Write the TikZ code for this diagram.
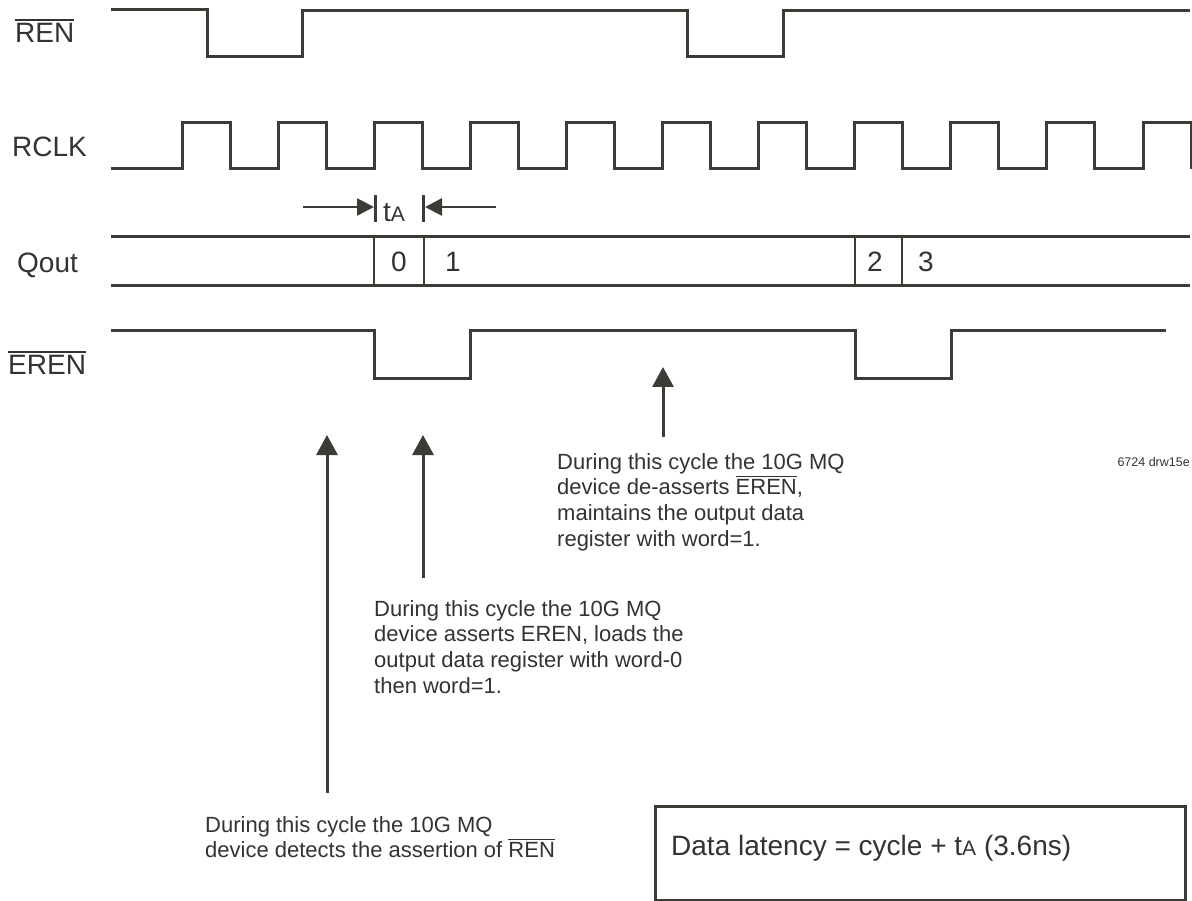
\documentclass[tikz,border=0pt]{standalone}
\usepackage{fontspec}
\setmainfont{Liberation Sans}
\usetikzlibrary{arrows.meta}
\definecolor{ink}{HTML}{3C3C37}
\definecolor{txt}{HTML}{333333}
\newcommand{\ovl}[1]{\leavevmode\vbox{\hrule height .07em\kern .11em\hbox{#1}}}
\newcommand{\tAmark}[1]{t\begingroup\fontsize{#1}{#1}\selectfont A\endgroup}
\begin{document}
\begin{tikzpicture}[x=1pt,y=-1pt,
  wave/.style={draw=ink,line width=3pt,line join=miter},
  sepline/.style={draw=ink,line width=2.5pt},
  sig/.style={anchor=base west,inner sep=0,text=txt,font=\fontsize{28}{30}\selectfont},
  val/.style={anchor=base,inner sep=0,text=txt,font=\fontsize{28}{30}\selectfont},
  note/.style={anchor=north west,inner sep=0,align=left,text=txt,font=\fontsize{22}{25.7}\selectfont},
  uparrow/.style={draw=ink,line width=3pt,-{Triangle[length=20pt,width=21pt]}},
  tarrow/.style={draw=ink,line width=2.5pt,-{Triangle[length=17pt,width=17pt]}},
]
\fill[white] (0,0) rectangle (1192,901);
\useasboundingbox (0,0) rectangle (1192,901);

% signal labels
\node[sig] (lren) at (15,43) {\ovl{REN}};
\node[sig] (lrclk) at (12,157) {RCLK};
\node[sig] (lqout) at (17,273) {Qout};
\node[sig] (leren) at (8,375) {\ovl{EREN}};

% REN
\draw[wave] (111,10) -- (207,10) -- (207,57) -- (302,57) -- (302,11) -- (687,11) -- (687,57) -- (783,57) -- (783,11) -- (1190,11);

% RCLK
\draw[wave] (111,169) foreach \n in {0,...,10} { -- ({182+96.1*\n},169) -- ({182+96.1*\n},123) -- ({230+96.1*\n},123) -- ({230+96.1*\n},169) };

% tA marker
\coordinate (tal0) at (303,207);
\coordinate (tal1) at (374,207);
\coordinate (tar0) at (496,207);
\coordinate (tar1) at (425,207);
\coordinate (tbl0) at (375.5,195);
\coordinate (tbl1) at (375.5,222);
\coordinate (tbr0) at (423.5,195);
\coordinate (tbr1) at (423.5,222);
\draw[tarrow] (tal0) -- (tal1);
\draw[tarrow] (tar0) -- (tar1);
\draw[sepline] (tbl0) -- (tbl1);
\draw[sepline] (tbr0) -- (tbr1);
\node[anchor=base west,inner sep=0,text=txt,font=\fontsize{28}{30}\selectfont] (ta) at (383,222) {\tAmark{21}};

% Qout
\draw[wave] (111,237) -- (1190,237);
\draw[wave] (111,286) -- (1190,286);
\foreach \xx in {374,424,855,902} { \draw[sepline] (\xx,237) -- (\xx,286); }
\node[val] (v0) at (399,272) {0};
\node[val] (v1) at (453,272) {1};
\node[val] (v2) at (875,272) {2};
\node[val] (v3) at (926,272) {3};

% EREN
\draw[wave] (111,331) -- (374,331) -- (374,379) -- (470,379) -- (470,331) -- (855,331) -- (855,379) -- (951,379) -- (951,331) -- (1166,331);

% annotation arrows
\coordinate (a1s) at (327,793);
\coordinate (a1e) at (327,435);
\coordinate (a2s) at (423,578);
\coordinate (a2e) at (423,435);
\coordinate (a3s) at (663,437);
\coordinate (a3e) at (663,367);
\draw[uparrow] (a1s) -- (a1e);
\draw[uparrow] (a2s) -- (a2e);
\draw[uparrow] (a3s) -- (a3e);

% annotations
\node[note] (n1) at (557,453) {During this cycle the 10G MQ\\device de-asserts \ovl{EREN},\\maintains the output data\\register with word=1.};
\node[note] (n2) at (374,600) {During this cycle the 10G MQ\\device asserts EREN, loads the\\output data register with word-0\\then word=1.};
\node[note] (n3) at (205,816) {During this cycle the 10G MQ\\device detects the assertion of \ovl{REN}};

\node[anchor=base east,inner sep=0,text=txt,font=\fontsize{12.5}{14}\selectfont] (drw) at (1190,466) {6724 drw15e};

% latency box
\node[draw=ink,line width=3pt,minimum width=530pt,minimum height=94pt,anchor=north west,inner sep=0] (box) at (654,805) {};
\node[sig] (lat) at (671,855) {Data latency = cycle + \tAmark{21} (3.6ns)};
\end{tikzpicture}
\end{document}
